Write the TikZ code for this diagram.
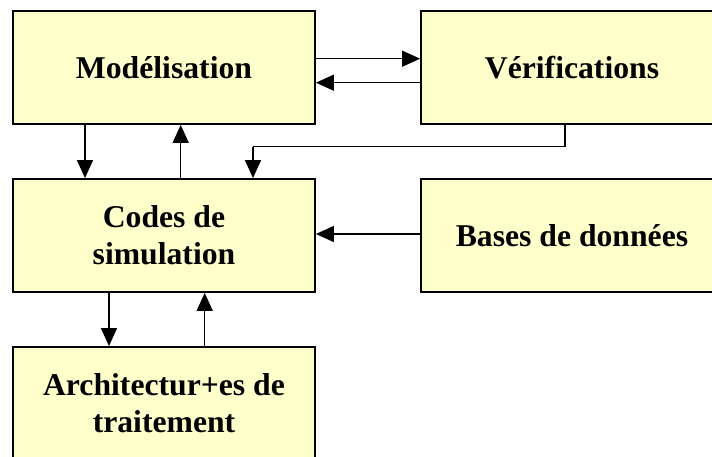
\documentclass[tikz,border=0pt]{standalone}
\usepackage{fontspec}
\setmainfont{Liberation Serif}
\usetikzlibrary{arrows.meta}
\definecolor{boxfill}{HTML}{FFFFCC}
\begin{document}
\begin{tikzpicture}[x=0.5bp,y=-0.5bp,
  blk/.style={draw=black,line width=0.9bp,fill=boxfill,minimum width=151bp,minimum height=56.5bp,
    inner sep=0pt,align=center,font=\fontsize{15.9}{18.6}\selectfont\bfseries},
  arr/.style={line width=0.7bp,-{Triangle[length=9bp,width=8bp]}},
  ln/.style={line width=0.7bp}]
\useasboundingbox (0,0) rectangle (712,457);
\clip (0,0) rectangle (712,457);
\node[blk] (mod) at (164,67.5) {Modélisation};
\node[blk] (ver) at (572,67.5) {Vérifications};
\node[blk] (cod) at (164,235.5) {Codes de\\simulation};
\node[blk] (bas) at (572,235.5) {Bases de données};
\node[blk] (arc) at (164,403.5) {Architectur+es de\\traitement};
\draw[arr] (mod.east |- {(0,58.7)}) -- (ver.west |- {(0,58.7)});
\draw[arr] (ver.west |- {(0,82.7)}) -- (mod.east |- {(0,82.7)});
\draw[arr] (mod.south -| {(85,0)}) -- (cod.north -| {(85,0)});
\draw[arr] (cod.north -| {(180.7,0)}) -- (mod.south -| {(180.7,0)});
\coordinate (c1) at (565,146.7);
\coordinate (c2) at (253,146.7);
\draw[ln] (ver.south -| c1) -- (c1) -- (c2);
\draw[arr] (c2) -- (cod.north -| c2);
\draw[arr] (bas.west |- {(0,234)}) -- (cod.east |- {(0,234)});
\draw[arr] (cod.south -| {(109,0)}) -- (arc.north -| {(109,0)});
\draw[arr] (arc.north -| {(204.7,0)}) -- (cod.south -| {(204.7,0)});
\end{tikzpicture}
\end{document}
